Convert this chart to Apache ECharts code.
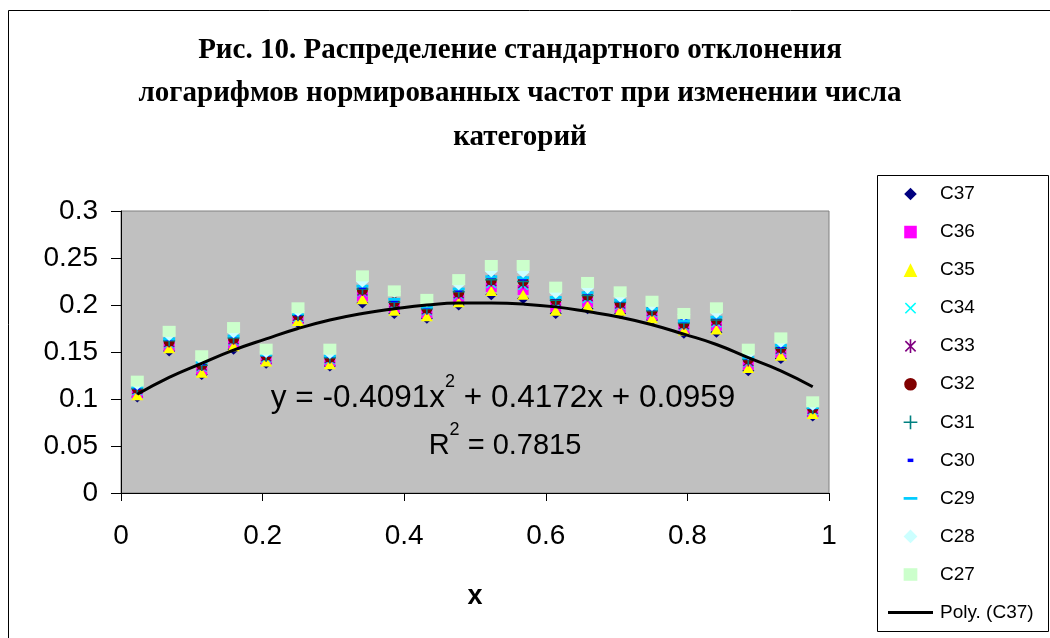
<!DOCTYPE html>
<html>
<head>
<meta charset="utf-8">
<script src="https://cdn.jsdelivr.net/npm/echarts@6/dist/echarts.min.js"></script>
<style>
html,body{margin:0;padding:0;background:#fff;}
#chart{width:1050px;height:638px;}
</style>
</head>
<body>
<div id="chart"></div>
<script>
// ---- data ----
const titleLines = ['Рис. 10. Распределение стандартного отклонения', 'логарифмов нормированных частот при изменении числа', 'категорий'];
const xTickValues = [0, 0.2, 0.4, 0.6, 0.8, 1];
const yTickValues = [0, 0.05, 0.1, 0.15, 0.2, 0.25, 0.3];
const xVals = [0.023,0.068,0.114,0.159,0.205,0.250,0.295,0.341,0.386,0.432,0.477,0.523,0.568,0.614,0.659,0.705,0.750,0.795,0.841,0.886,0.932,0.977];
const c37 = [0.102,0.151,0.126,0.153,0.138,0.181,0.135,0.202,0.191,0.186,0.200,0.211,0.207,0.191,0.196,0.191,0.184,0.170,0.171,0.130,0.143,0.082];
const c36 = [0.106,0.156,0.131,0.159,0.142,0.185,0.140,0.209,0.197,0.191,0.207,0.219,0.216,0.198,0.203,0.197,0.189,0.175,0.178,0.136,0.149,0.086];
const c35 = [0.104,0.154,0.128,0.156,0.140,0.183,0.137,0.206,0.194,0.188,0.203,0.215,0.211,0.194,0.199,0.194,0.186,0.173,0.174,0.133,0.146,0.084];
const c34 = [0.109,0.159,0.134,0.162,0.144,0.187,0.142,0.214,0.200,0.194,0.211,0.223,0.221,0.202,0.207,0.200,0.192,0.178,0.181,0.139,0.152,0.088];
const c33 = [0.110,0.160,0.135,0.163,0.145,0.188,0.143,0.215,0.202,0.195,0.212,0.225,0.223,0.204,0.209,0.201,0.193,0.179,0.183,0.140,0.153,0.089];
const c32 = [0.111,0.161,0.136,0.164,0.146,0.189,0.144,0.216,0.203,0.196,0.213,0.226,0.225,0.205,0.210,0.202,0.194,0.180,0.184,0.142,0.154,0.090];
const c31 = [0.111,0.162,0.136,0.165,0.146,0.189,0.144,0.217,0.203,0.196,0.214,0.227,0.225,0.205,0.210,0.203,0.194,0.181,0.184,0.142,0.154,0.090];
const c30 = [0.112,0.164,0.138,0.167,0.147,0.190,0.146,0.219,0.205,0.198,0.216,0.230,0.228,0.208,0.213,0.205,0.196,0.183,0.187,0.144,0.156,0.091];
const c29 = [0.113,0.164,0.139,0.167,0.147,0.191,0.146,0.220,0.206,0.198,0.217,0.230,0.229,0.208,0.213,0.205,0.196,0.183,0.187,0.144,0.157,0.091];
const c28 = [0.116,0.168,0.142,0.171,0.150,0.194,0.149,0.225,0.214,0.204,0.222,0.236,0.235,0.213,0.218,0.209,0.200,0.190,0.192,0.148,0.161,0.094];
const c27 = [0.119,0.172,0.146,0.176,0.153,0.197,0.153,0.231,0.215,0.206,0.227,0.242,0.242,0.219,0.224,0.214,0.204,0.191,0.197,0.153,0.165,0.097];
// polynomial trendline of C37 as drawn (read at the same x positions)
const trendY = [0.105,0.123,0.138,0.152,0.164,0.175,0.184,0.191,0.196,0.200,0.202,0.202,0.201,0.198,0.193,0.187,0.179,0.169,0.158,0.144,0.130,0.113];
const seriesNames = ['C37','C36','C35','C34','C33','C32','C31','C30','C29','C28','C27'];
const trendName = 'Poly. (C37)';
const eqText = ['y = -0.4091x', '2', ' + 0.4172x + 0.0959'];
const r2Text = ['R', '2', ' = 0.7815'];

// ---- styles ----
const SANS = 'Liberation Sans, Arial, sans-serif';
const SERIF = 'Liberation Serif, Times New Roman, serif';
const P_X = 'path://M0,1 L1,0 L5,4 L9,0 L10,1 L6,5 L10,9 L9,10 L5,6 L1,10 L0,9 L4,5 Z';
const P_STAR = 'path://M0,1 L1,0 L5,4 L9,0 L10,1 L6,5 L10,9 L9,10 L5,6 L1,10 L0,9 L4,5 Z M4.3,0 L5.7,0 L5.7,10 L4.3,10 Z';
const P_PLUS = 'path://M4.3,0 L5.7,0 L5.7,4.3 L10,4.3 L10,5.7 L5.7,5.7 L5.7,10 L4.3,10 L4.3,5.7 L0,5.7 L0,4.3 L4.3,4.3 Z';
const styleMap = {
  C37: {color:'#000080', symbol:'diamond', size:[12,11]},
  C36: {color:'#FF00FF', symbol:'rect', size:[11,10]},
  C35: {color:'#FFFF00', symbol:'triangle', size:[12,10]},
  C34: {color:'#00FFFF', symbol:P_X, size:[11,10]},
  C33: {color:'#800080', symbol:P_STAR, size:[11,10]},
  C32: {color:'#800000', symbol:'circle', size:[11,10]},
  C31: {color:'#008080', symbol:P_PLUS, size:[12,11]},
  C30: {color:'#0000FF', symbol:'rect', size:[7,4]},
  C29: {color:'#00CCFF', symbol:'rect', size:[12,3]},
  C28: {color:'#CCFFFF', symbol:'diamond', size:[13,12]},
  C27: {color:'#CCFFCC', symbol:'rect', size:[13,11]}
};
// legend icons drawn inside a 14x14 box (the M0,0 M14,14 anchors keep the box)
const legendIcons = {
  C37: 'path://M0,0 M14,14 M7,1.5 L12.5,7 L7,12.5 L1.5,7 Z',
  C36: 'path://M0,0 M14,14 M1.5,1.5 L12.5,1.5 L12.5,12.5 L1.5,12.5 Z',
  C35: 'path://M0,0 M14,14 M7,1 L13,13 L1,13 Z',
  C34: 'path://M0,0 M14,14 M2,3 L3,2 L7,6 L11,2 L12,3 L8,7 L12,11 L11,12 L7,8 L3,12 L2,11 L6,7 Z',
  C33: 'path://M0,0 M14,14 M2,3 L3,2 L7,6 L11,2 L12,3 L8,7 L12,11 L11,12 L7,8 L3,12 L2,11 L6,7 Z M6.3,1 L7.7,1 L7.7,13 L6.3,13 Z',
  C32: 'path://M0,0 M14,14 M7,1.5 A5.5,5.5 0 1,1 6.99,1.5 Z',
  C31: 'path://M0,0 M14,14 M6.3,1 L7.7,1 L7.7,6.3 L13,6.3 L13,7.7 L7.7,7.7 L7.7,13 L6.3,13 L6.3,7.7 L1,7.7 L1,6.3 L6.3,6.3 Z',
  C30: 'path://M0,0 M14,14 M4.5,5.5 L9.5,5.5 L9.5,8.5 L4.5,8.5 Z',
  C29: 'path://M0,0 M14,14 M1,5.8 L13,5.8 L13,8.2 L1,8.2 Z',
  C28: 'path://M0,0 M14,14 M7,1 L13,7 L7,13 L1,7 Z',
  C27: 'path://M0,0 M14,14 M1,1.5 L13,1.5 L13,12.5 L1,12.5 Z'
};
const trendIcon = 'path://M0,0 L45,0 L45,3 L0,3 Z';
const dataBySeries = {C37:c37,C36:c36,C35:c35,C34:c34,C33:c33,C32:c32,C31:c31,C30:c30,C29:c29,C28:c28,C27:c27};

const series = seriesNames.map(n => ({
  name: n,
  type: 'scatter',
  data: xVals.map((x, i) => [x, dataBySeries[n][i]]),
  symbol: styleMap[n].symbol,
  symbolSize: styleMap[n].size,
  itemStyle: {color: styleMap[n].color, opacity: 1},
  emphasis: {disabled: true},
  z: 2
}));
series.push({
  name: trendName,
  type: 'line',
  data: xVals.map((x, i) => [x, trendY[i]]),
  smooth: true,
  symbol: 'none',
  lineStyle: {color: '#000', width: 3},
  itemStyle: {color: '#000'},
  emphasis: {disabled: true},
  z: 3
});

const legendData = seriesNames.map(n => ({name: n, icon: legendIcons[n]}));
legendData.push({name: trendName, icon: trendIcon});

const supRich = (nSize) => ({
  n: {fontFamily: SANS, fontSize: nSize, fill: '#000', color: '#000', lineHeight: 50, verticalAlign: 'middle'},
  s: {fontFamily: SANS, fontSize: 18, fill: '#000', color: '#000', lineHeight: 20, verticalAlign: 'top'}
});

const chart = echarts.init(document.getElementById('chart'), null, {renderer: 'canvas'});
chart.setOption({
  animation: false,
  backgroundColor: '#fff',
  grid: {left: 121, top: 211, width: 708, height: 282, show: true, backgroundColor: '#C0C0C0', borderColor: '#808080', borderWidth: 1},
  xAxis: {
    type: 'value', min: 0, max: 1, interval: 0.2,
    name: 'x', nameLocation: 'middle', nameGap: 90,
    nameTextStyle: {fontFamily: SANS, fontWeight: 'bold', fontSize: 27, color: '#000'},
    axisLine: {show: true, onZero: false, lineStyle: {color: '#000', width: 1}},
    axisTick: {show: true, inside: false, length: 8, lineStyle: {color: '#000'}},
    axisLabel: {fontFamily: SANS, fontSize: 28, color: '#000', margin: 29,
      formatter: v => { const t = xTickValues.find(a => Math.abs(a - v) < 1e-9); return t === undefined ? '' : String(t); }},
    splitLine: {show: false}
  },
  yAxis: {
    type: 'value', min: 0, max: 0.3, interval: 0.05,
    axisLine: {show: true, onZero: false, lineStyle: {color: '#000', width: 1}},
    axisTick: {show: true, inside: false, length: 10, lineStyle: {color: '#000'}},
    axisLabel: {fontFamily: SANS, fontSize: 28, color: '#000', margin: 23,
      formatter: v => { const t = yTickValues.find(a => Math.abs(a - v) < 1e-9); return t === undefined ? '' : String(t); }},
    splitLine: {show: false}
  },
  legend: {
    orient: 'vertical', left: 888, top: 184, padding: 0,
    itemWidth: 45, itemHeight: 16, itemGap: 18.05,
    symbolKeepAspect: true,
    selectedMode: false,
    textStyle: {fontFamily: SANS, fontSize: 19, color: '#000', lineHeight: 20, padding: [0, 0, 0, 2]},
    data: legendData
  },
  graphic: [
    {type: 'rect', shape: {x: 8.5, y: 10.5, width: 1100, height: 700}, style: {fill: 'none', stroke: '#000', lineWidth: 1}, silent: true, z: 0},
    {type: 'rect', shape: {x: 877.5, y: 175.5, width: 171, height: 456}, style: {fill: 'none', stroke: '#000', lineWidth: 1}, silent: true, z: 0},
    {type: 'text', x: 520, y: 28.5, silent: true,
      style: {text: titleLines.join('\n'), fill: '#000', font: 'bold 29px ' + SERIF, fontFamily: SERIF, fontWeight: 'bold', fontSize: 29,
        align: 'center', textAlign: 'center', verticalAlign: 'top', lineHeight: 43.5}},
    {type: 'text', x: 503, y: 398, silent: true, z: 10,
      style: {text: '{n|' + eqText[0] + '}{s|' + eqText[1] + '}{n|' + eqText[2] + '}',
        align: 'center', textAlign: 'center', verticalAlign: 'middle', textVerticalAlign: 'middle',
        rich: supRich(31.5)}},
    {type: 'text', x: 505, y: 446, silent: true, z: 10,
      style: {text: '{n|' + r2Text[0] + '}{s|' + r2Text[1] + '}{n|' + r2Text[2] + '}',
        align: 'center', textAlign: 'center', verticalAlign: 'middle', textVerticalAlign: 'middle',
        rich: supRich(29)}}
  ],
  series: series
});
</script>
</body>
</html>
